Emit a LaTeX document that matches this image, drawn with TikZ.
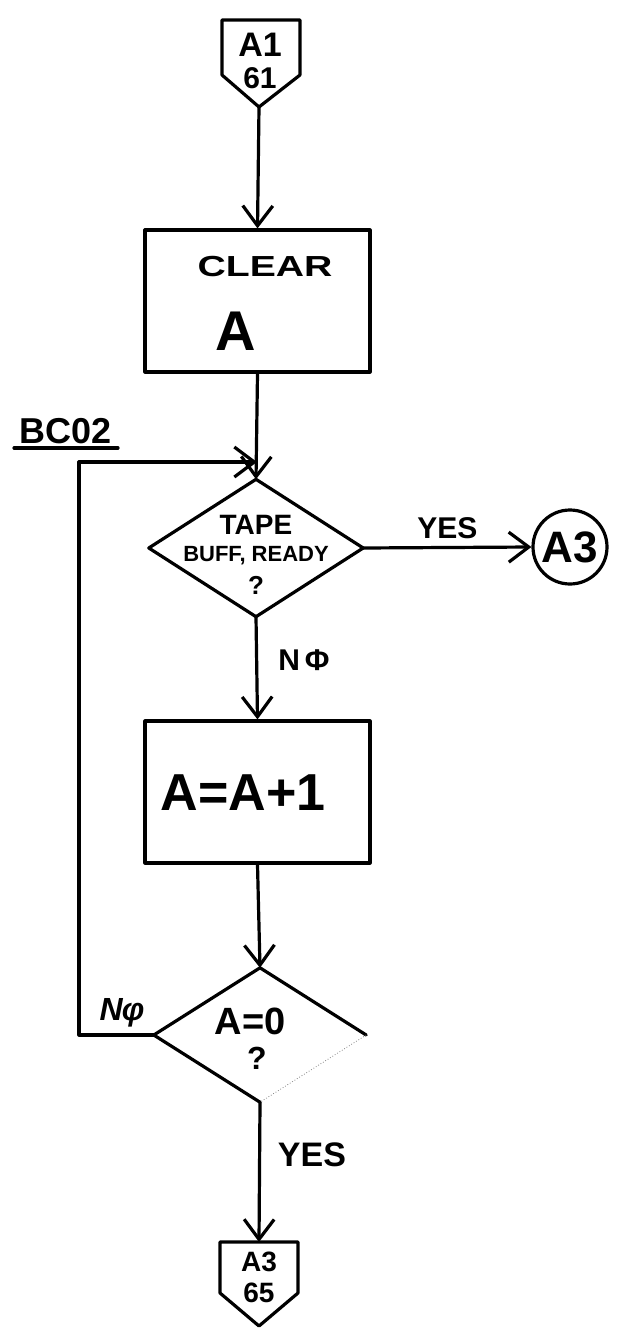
\documentclass[tikz,border=0pt]{standalone}
\usepackage{fontspec}
\setmainfont{Liberation Sans}
\usetikzlibrary{shapes.geometric,arrows.meta}
\tikzset{
  ln/.style={line width=3.2pt, line cap=round, line join=round},
  arr/.style={ln, -{Straight Barb[length=20pt,width=30pt,line width=3.2pt]}},
  procbox/.style={draw, ln, rectangle, inner sep=0pt, minimum width=225pt, minimum height=142pt},
  decis/.style={diamond, inner sep=0pt, minimum width=214pt, minimum height=137pt},
  conn/.style={draw, ln, circle, inner sep=0pt, minimum size=74pt},
  txt/.style={inner sep=0pt, anchor=center, font=\bfseries},
}
\newcommand{\fs}[1]{\fontsize{#1pt}{#1pt}\selectfont}
\begin{document}
\begin{tikzpicture}[x=1pt,y=-1pt]
\useasboundingbox (0,0) rectangle (621,1332);
% top off-page connector
\coordinate (t1) at (222,20);
\coordinate (t2) at (300,20);
\coordinate (t3) at (300,75);
\coordinate (c1tip) at (259,107);
\coordinate (t5) at (222,75);
\draw[ln] (t1) -- (t2) -- (t3) -- (c1tip) -- (t5) -- cycle;
\node[txt] (c1a) at (260,45) {\fs{34}A1};
\node[txt] (c1b) at (260,78) {\fs{30}61};
% box 1
\node[procbox] (b1) at (257.5,301) {};
\node[txt] (b1t) at (265,267) {\fs{29}\scalebox{1.35}[1]{CLEAR}};
\node[txt] (b1a) at (236,331) {\fs{56}A};
% decision 1
\node[decis] (d1) at (256,548) {};
\draw[ln] (d1.north) -- (d1.east) -- (d1.south) -- (d1.west) -- cycle;
\node[txt] (d1a) at (256,525) {\fs{28}TAPE};
\node[txt] (d1b) at (256,556) {\fs{22}BUFF, READY};
\node[txt] (d1c) at (256,585) {\fs{26}?};
% A3 connector
\node[conn] (a3) at (570,547) {\fs{44}\bfseries A3};
% box 2
\node[procbox] (b2) at (257.5,792) {};
\node[txt] (b2t) at (243,793) {\fs{52}A=A+1};
% decision 2
\node[decis, minimum width=212pt, minimum height=134pt] (d2) at (260,1035) {};
\draw[ln] (d2.south) -- (d2.west) -- (d2.north) -- (d2.east);
\draw[line width=0.8pt, dotted, gray] (d2.east) -- (d2.south);
\node[txt] (d2a) at (250,1021) {\fs{38}A=0};
\node[txt] (d2b) at (257,1058) {\fs{32}?};
% bottom off-page connector
\coordinate (c2top) at (259,1242);
\coordinate (u1) at (220,1242);
\coordinate (u2) at (298,1242);
\coordinate (u3) at (298,1293);
\coordinate (u4) at (259,1326);
\coordinate (u5) at (220,1293);
\draw[ln] (u1) -- (u2) -- (u3) -- (u4) -- (u5) -- cycle;
\node[txt] (c2a) at (259,1262) {\fs{28}A3};
\node[txt] (c2b) at (259,1293) {\fs{28}65};
% connectors
\draw[arr] (c1tip) -- (b1.north);
\draw[arr] (b1.south) -- (d1.north);
\draw[arr] (d1.east) -- node[txt, above=7pt] (yes1) {\fs{30}YES} (a3.west);
\draw[arr] (d1.south) -- (b2.north);
\node[txt] (no1) at (304,660) {\fs{30}N\,Φ};
\draw[arr] (b2.south) -- (d2.north);
\coordinate (lpT) at (79,462);
\coordinate (lpE) at (257,462);
\draw[arr] (d2.west) -| (lpT) -- (lpE);
\node[txt] (no2) at (122,1013) {\fs{32}\itshape N\kern-1pt φ};
\draw[ln] (98,1035) -- (150,1035);
\node[txt] (bc) at (66,431) {\fs{36}BC02};
\draw[ln] (14,448) -- (118,448);
\draw[arr] (d2.south) -- (c2top);
\node[txt] (yes2) at (312,1155) {\fs{34}YES};
\end{tikzpicture}
\end{document}
